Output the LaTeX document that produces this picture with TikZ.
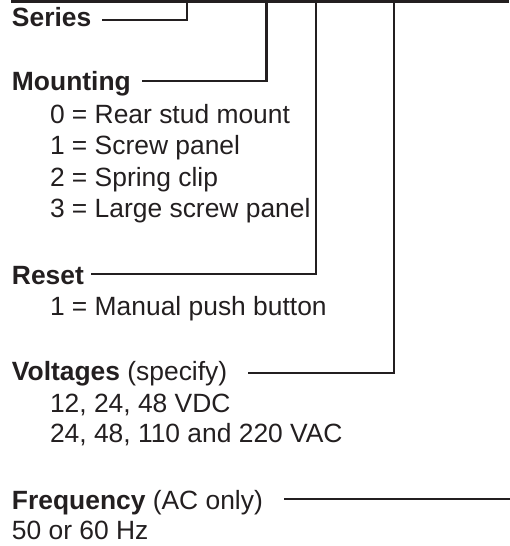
\documentclass[tikz,border=0pt]{standalone}
\usepackage{fontspec}
\setmainfont{Liberation Sans}
\definecolor{ink}{HTML}{231F20}
\begin{document}
\begin{tikzpicture}[x=1pt,y=1pt,
  txt/.style={anchor=base west,inner sep=0pt,outer sep=0pt,text=ink,font=\fontsize{26.4}{30}\selectfont},
  head/.style={txt,font=\fontsize{26.4}{30}\selectfont\bfseries},
  lead/.style={draw=ink,line width=2.2pt,line join=miter,line cap=rect},
  topbar/.style={draw=ink,line width=3pt}]
\useasboundingbox (0,0) rectangle (509,-546);
% texts
\node[head] (series) at (12,-26.7) {Series};
\node[head] (mount) at (12,-90.7) {Mounting};
\node[txt] (m0) at (50,-123) {0 = Rear stud mount};
\node[txt] (m1) at (50,-154.5) {1 = Screw panel};
\node[txt] (m2) at (50,-186) {2 = Spring clip};
\node[txt] (m3) at (50,-217) {3 = Large screw panel};
\node[head] (reset) at (12,-284) {Reset};
\node[txt] (r1) at (50,-315.7) {1 = Manual push button};
\node[txt] (volt) at (12,-380.7) {\textbf{Voltages} (specify)};
\node[txt] (v1) at (50,-412) {12, 24, 48 VDC};
\node[txt] (v2) at (50,-442.7) {24, 48, 110 and 220 VAC};
\node[txt] (freq) at (12,-509.3) {\textbf{Frequency} (AC only)};
\node[txt] (f1) at (12,-539.3) {50 or 60 Hz};
% coordinates
\coordinate (tl) at (11,-1.5);
\coordinate (tr) at (509,-1.5);
\coordinate (sA) at (103,-20.3);
\coordinate (sB) at (186.7,-20.3);
\coordinate (sT) at (186.7,-1.5);
\coordinate (mA) at (143,-81.3);
\coordinate (mB) at (266.5,-81.3);
\coordinate (mT) at (266.5,-1.5);
\coordinate (rA) at (92,-274);
\coordinate (rB) at (316,-274);
\coordinate (rT) at (316,-1.5);
\coordinate (vA) at (249,-373);
\coordinate (vB) at (394,-373);
\coordinate (vT) at (394,-1.5);
\coordinate (fA) at (285,-499);
\coordinate (fB) at (509,-499);
% leaders
\draw[topbar] (tl) -- (tr);
\draw[lead] (sA) -- (sB) -- (sT);
\draw[lead] (mA) -- (mB) -- (mT);
\draw[lead] (rA) -- (rB) -- (rT);
\draw[lead] (vA) -- (vB) -- (vT);
\draw[lead] (fA) -- (fB);
\end{tikzpicture}
\end{document}
